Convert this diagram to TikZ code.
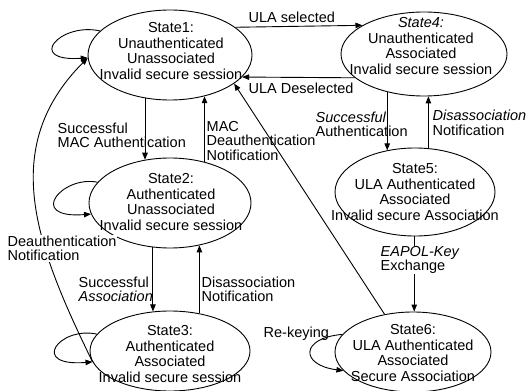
\documentclass[tikz,border=0pt]{standalone}
\usepackage{fontspec}
\setmainfont{Liberation Sans}
\usetikzlibrary{arrows.meta,shapes.geometric}
\begin{document}
\begin{tikzpicture}[x=1pt,y=-1pt,
  font=\fontsize{14.5}{15.5}\selectfont,
  state/.style={draw, ellipse, inner sep=0pt, line width=0.9pt},
  stxt/.style={align=center, inner sep=0pt},
  lbl/.style={align=left, inner sep=0.5pt, anchor=west, font=\fontsize{14.5}{14.5}\selectfont},
  arr/.style={line width=0.9pt, -{Triangle[length=7pt,width=5.5pt]}}
]
\useasboundingbox (0,0) rectangle (526,390);

% state ellipses
\node[state, minimum width=164pt, minimum height=90pt] (s1) at (170,55) {};
\node[state, minimum width=162pt, minimum height=90pt] (s2) at (170,203) {};
\node[state, minimum width=160pt, minimum height=80pt] (s3) at (170,351) {};
\node[state, minimum width=166pt, minimum height=84pt] (s4) at (424,54) {};
\node[state, minimum width=160pt, minimum height=88pt] (s5) at (415,192) {};
\node[state, minimum width=156pt, minimum height=80pt] (s6) at (413,352) {};

% state texts
\node[stxt] (s1t) at (171,51) {State1:\\Unauthenticated\\Unassociated\\Invalid secure session};
\node[stxt] (s2t) at (171,202) {State2:\\Authenticated\\Unassociated\\Invalid secure session};
\node[stxt] (s3t) at (170,354) {State3:\\Authenticated\\Associated\\Invalid secure session};
\node[stxt] (s4t) at (421,46) {\textit{State4:}\\Unauthenticated\\Associated\\Invalid secure session};
\node[stxt] (s5t) at (415,192) {State5:\\ULA Authenticated\\Associated\\Invalid secure Association};
\node[stxt] (s6t) at (413,353) {State6:\\ULA Authenticated\\Associated\\Secure Association};

% self loops
\draw[arr] (s1.161) .. controls (60,22) and (25,62) .. (s1.182);
\draw[arr] (s2.164) .. controls (62,175) and (26,219) .. (s2.188.5);
\draw[arr] (s3.167) .. controls (59,326) and (29,367) .. (s3.188.5);
\draw[arr] (s6.166.3) .. controls (300,338) and (300,365) .. (s6.195.7);

% horizontal transitions between State1 and State4
\draw[arr] (s1.23.6) -- (s4.155.7);
\draw[arr] (s4.-161.7) -- (s1.-17.1);

% vertical transitions
\draw[arr] (s1.-120.3) -- (s1.-120.3 |- s2.120.3);
\draw[arr] (s2.50.2) -- (s2.50.2 |- s1.-50.3);
\draw[arr] (s2.-111.1) -- (s2.-111.1 |- s3.113.5);
\draw[arr] (s3.52.1) -- (s3.52.1 |- s2.-55.4);
\draw[arr] (s4.-134.5) -- (s4.-134.5 |- s5.124.2);
\draw[arr] (s5.73.3) -- (s5.73.3 |- s4.-84.6);
\draw[arr] (s5.-91.3) -- (s5.-91.3 |- s6.88.6);

% long transitions back to State1
\draw[arr] (s6.127.6) -- (s1.-24);
\draw[arr] (s3.188) .. controls (36,246) and (-2,148) .. (s1.182);

% transition labels
\node[lbl] (l1) at (248,17) {ULA selected};
\node[lbl] (l2) at (248,88) {ULA Deselected};
\node[lbl] (l3) at (57,135.5) {Successful\\MAC Authentication};
\node[lbl] (l4) at (206,141) {MAC\\Deauthentication\\Notification};
\node[lbl, fill=white] (l5) at (7,248.5) {Deauthentication\\Notification};
\node[lbl] (l6) at (78,289.5) {Successful\\\textit{Association}};
\node[lbl] (l7) at (201,289.5) {Disassociation\\Notification};
\node[lbl] (l8) at (315,124.5) {\textit{Successful}\\Authentication};
\node[lbl] (l9) at (432,123) {\textit{Disassociation}\\Notification};
\node[lbl, fill=white] (l10) at (380,260) {\textit{EAPOL-Key}\\Exchange};
\node[lbl] (l11) at (263,334) {Re-keying};
\end{tikzpicture}
\end{document}
